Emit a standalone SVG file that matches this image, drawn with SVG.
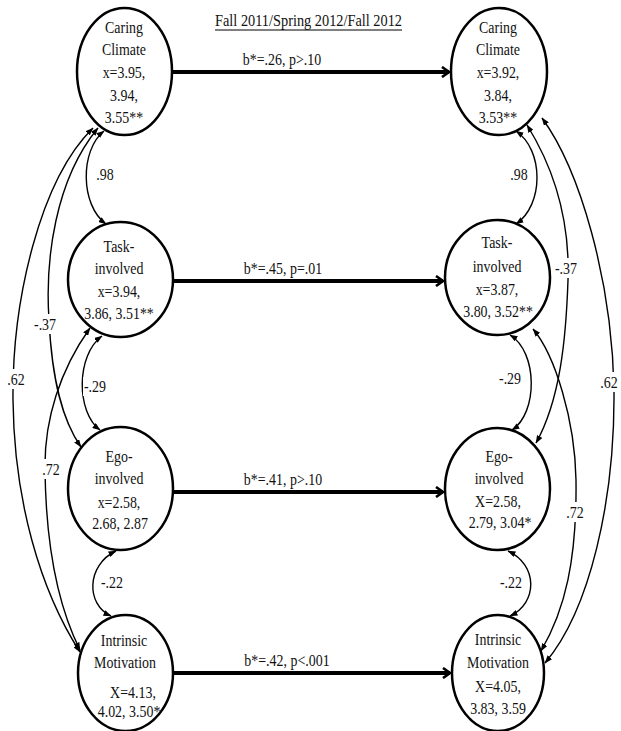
<svg xmlns="http://www.w3.org/2000/svg" width="621" height="731" viewBox="0 0 621 731">
<defs>
<style>
text{font-family:"Liberation Serif","Times New Roman",serif;font-size:17px;fill:#111;text-anchor:middle;transform:scaleX(.82);transform-box:fill-box;transform-origin:center}
text.title{transform:none}
.n ellipse{fill:#fff;stroke:#000;stroke-width:2.5}
.h{stroke:#000;stroke-width:4;fill:none;marker-end:url(#ah)}
.c{fill:none;stroke:#000;stroke-width:1.4;marker-start:url(#sm);marker-end:url(#sm)}
.bg{fill:#fff}
</style>
<marker id="ah" viewBox="0 0 10 12" refX="8" refY="6" markerWidth="10" markerHeight="12" markerUnits="userSpaceOnUse" orient="auto">
<path d="M1,1 L8,6 L1,11" fill="none" stroke="#000" stroke-width="2.6"/>
</marker>
<marker id="sm" viewBox="0 0 8 6" refX="7.5" refY="3" markerWidth="8" markerHeight="6" markerUnits="userSpaceOnUse" orient="auto-start-reverse">
<path d="M0,0 L8,3 L0,6 z" fill="#000"/>
</marker>
</defs>
<rect width="621" height="731" fill="#fff"/>

<g id="title">
<text class="title" x="308.5" y="26" textLength="187" lengthAdjust="spacingAndGlyphs">Fall 2011/Spring 2012/Fall 2012</text>
<line x1="215" y1="30" x2="402" y2="30" stroke="#000" stroke-width="1"/>
</g>

<g id="connectors">
<!-- horizontal paths -->
<line class="h" x1="173" y1="72" x2="449" y2="72"/>
<line class="h" x1="173" y1="281" x2="443" y2="281"/>
<line class="h" x1="173" y1="492" x2="443" y2="492"/>
<line class="h" x1="173" y1="673" x2="450" y2="673"/>
<!-- left correlations -->
<path class="c" d="M104,131 C80,150 80,205 106,224"/>
<path class="c" d="M93,128 C40,180 12,300 13,400 C14,500 40,590 80,652"/>
<path class="c" d="M98,128 C55,180 45,260 49,320 C52,380 62,420 81,447"/>
<path class="c" d="M90,328 C60,370 44,420 45,470 C46,550 60,610 80,650"/>
<path class="c" d="M102,336 C76,355 76,412 100,430"/>
<path class="c" d="M116,551 C86,565 86,605 111,616"/>
<!-- right correlations -->
<path class="c" d="M516,131 C544,150 544,205 516,224"/>
<path class="c" d="M527,125 C555,170 570,220 568,280 C566,340 560,400 536,443"/>
<path class="c" d="M542,118 C580,170 612,280 614,390 C615,500 590,610 545,663"/>
<path class="c" d="M533,329 C555,355 575,420 576,480 C577,560 565,610 541,651"/>
<path class="c" d="M510,335 C538,352 538,413 512,430"/>
<path class="c" d="M508,551 C538,565 538,603 510,616"/>
<!-- path labels -->
<text x="282" y="65">b*=.26, p&gt;.10</text>
<text x="283" y="274">b*=.45, p=.01</text>
<text x="283" y="485">b*=.41, p&gt;.10</text>
<text x="287" y="666">b*=.42, p&lt;.001</text>
<!-- correlation labels -->
<rect class="bg" x="95" y="166" width="22" height="18"/><text x="105" y="180">.98</text>
<rect class="bg" x="33" y="314" width="26" height="20"/><text x="45" y="330">-.37</text>
<rect class="bg" x="5" y="369" width="22" height="20"/><text x="16" y="385">.62</text>
<rect class="bg" x="83" y="377" width="25" height="19"/><text x="95" y="392">-.29</text>
<rect class="bg" x="40" y="459" width="22" height="20"/><text x="51" y="475">.72</text>
<rect class="bg" x="100" y="573" width="25" height="19"/><text x="112" y="588">-.22</text>
<rect class="bg" x="508" y="166" width="22" height="18"/><text x="519" y="180">.98</text>
<rect class="bg" x="553" y="258" width="26" height="20"/><text x="566" y="274">-.37</text>
<rect class="bg" x="599" y="372" width="21" height="20"/><text x="609" y="388">.62</text>
<rect class="bg" x="498" y="369" width="25" height="19"/><text x="510" y="384">-.29</text>
<rect class="bg" x="564" y="502" width="22" height="20"/><text x="575" y="518">.72</text>
<rect class="bg" x="498" y="573" width="25" height="19"/><text x="511" y="588">-.22</text>
</g>

<g id="caring-left" class="n">
<ellipse cx="124.5" cy="71.5" rx="47.5" ry="63.5"/>
<text x="124" y="33">Caring</text>
<text x="124" y="55">Climate</text>
<text x="124" y="78">x=3.95,</text>
<text x="124" y="101">3.94,</text>
<text x="124" y="123">3.55**</text>
</g>
<g id="task-left" class="n">
<ellipse cx="120.5" cy="279.5" rx="52.5" ry="57.5"/>
<text x="119" y="252">Task-</text>
<text x="119" y="274">involved</text>
<text x="119" y="297">x=3.94,</text>
<text x="119" y="319">3.86, 3.51**</text>
</g>
<g id="ego-left" class="n">
<ellipse cx="120.5" cy="488.5" rx="52.5" ry="61.5"/>
<text x="119" y="462">Ego-</text>
<text x="119" y="484">involved</text>
<text x="119" y="508">x=2.58,</text>
<text x="120" y="529">2.68, 2.87</text>
</g>
<g id="intrinsic-left" class="n">
<ellipse cx="125.5" cy="673" rx="47.5" ry="58"/>
<text x="124" y="646">Intrinsic</text>
<text x="125" y="668">Motivation</text>
<text x="133" y="698">X=4.13,</text>
<text x="129" y="717">4.02, 3.50*</text>
</g>

<g id="caring-right" class="n">
<ellipse cx="499" cy="71.5" rx="48" ry="63.5"/>
<text x="498" y="33">Caring</text>
<text x="498" y="55">Climate</text>
<text x="498" y="78">x=3.92,</text>
<text x="498" y="101">3.84,</text>
<text x="498" y="123">3.53**</text>
</g>
<g id="task-right" class="n">
<ellipse cx="497.5" cy="277.5" rx="52.5" ry="57.5"/>
<text x="497" y="248">Task-</text>
<text x="497" y="272">involved</text>
<text x="497" y="295">x=3.87,</text>
<text x="498" y="317">3.80, 3.52**</text>
</g>
<g id="ego-right" class="n">
<ellipse cx="497.5" cy="489" rx="52.5" ry="61"/>
<text x="499" y="462">Ego-</text>
<text x="499" y="484">involved</text>
<text x="498" y="507">X=2.58,</text>
<text x="500" y="528">2.79, 3.04*</text>
</g>
<g id="intrinsic-right" class="n">
<ellipse cx="498" cy="673" rx="46" ry="58"/>
<text x="498" y="645">Intrinsic</text>
<text x="498" y="668">Motivation</text>
<text x="498" y="692">X=4.05,</text>
<text x="498" y="714">3.83, 3.59</text>
</g>
</svg>
